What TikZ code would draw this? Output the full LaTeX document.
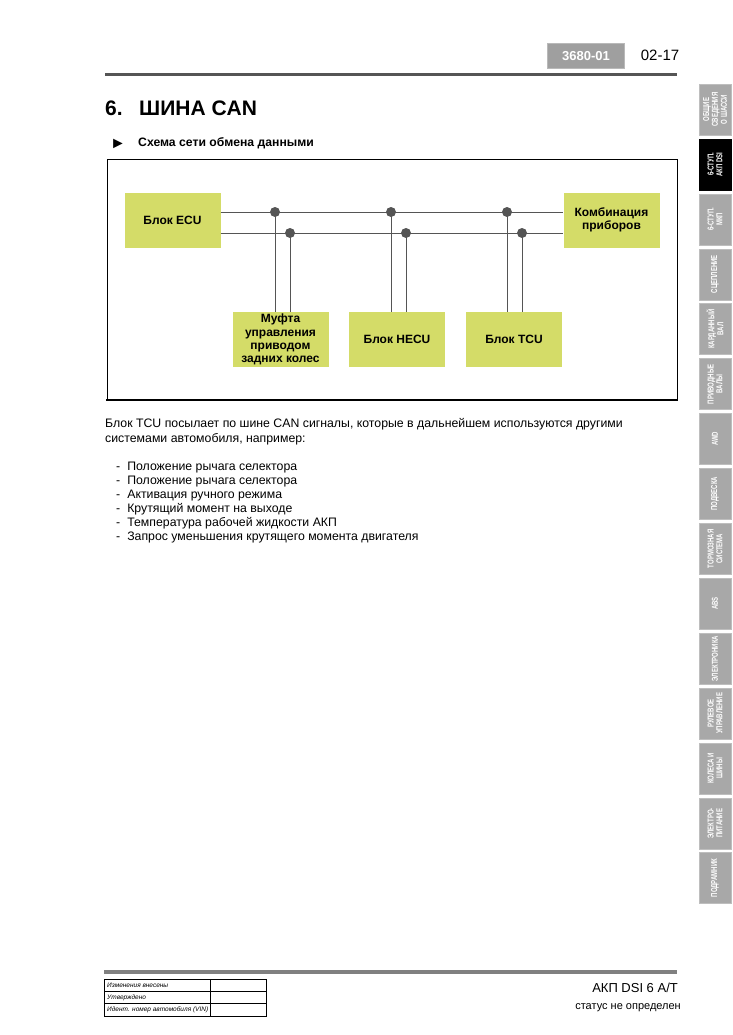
\documentclass[tikz,border=0pt]{standalone}
\usepackage{fontspec}
\setmainfont{Liberation Sans}
\newfontfamily\tabfont[FakeStretch=0.7]{Liberation Sans}
\usetikzlibrary{positioning}
\definecolor{unitfill}{RGB}{212,220,104}
\definecolor{wire}{RGB}{85,85,85}
\definecolor{tabgray}{RGB}{168,168,168}

\begin{document}
\begin{tikzpicture}[x=1pt, y=-1pt,
  unit/.style={fill=unitfill, inner sep=0pt, minimum width=96pt, minimum height=55pt, align=center, font=\fontsize{12}{13.6}\selectfont\bfseries},
  dot/.style={circle, fill=wire, inner sep=0pt, minimum size=10pt},
  bus/.style={wire, line width=0.9pt},
  tab/.style={rotate=90, fill=tabgray, draw=tabgray!75, minimum width=51pt, minimum height=32pt, inner sep=0pt, text=white, align=center, font=\tabfont\fontsize{8.6}{8.8}\selectfont\bfseries},
  txt/.style={anchor=base west, inner sep=0pt, font=\fontsize{12.3}{14}\selectfont}]
\useasboundingbox (0,0) rectangle (732,1035);

% header
\node[fill=gray!75, draw=gray!55, line width=1.5pt, minimum width=77pt, minimum height=25pt, text=white, font=\fontsize{13}{14}\selectfont\bfseries] (code) at (586,56) {3680-01};
\node[font=\fontsize{15}{16}\selectfont] (page) at (660,55) {02-17};
\draw[wire, line width=3pt] (105,75) -- (677,75);

% title
\node[anchor=base west, inner sep=0pt, font=\fontsize{21}{23}\selectfont\bfseries] (num) at (105,116) {6.};
\node[anchor=base west, inner sep=0pt, font=\fontsize{21}{23}\selectfont\bfseries] (title) at (139,116) {ШИНА CAN};
\node[anchor=base west, inner sep=0pt, font=\fontsize{16}{16}\selectfont] (tri) at (110,148.5) {►};
\node[anchor=base west, inner sep=0pt, font=\fontsize{12.2}{13}\selectfont\bfseries] (sub) at (138,147) {Схема сети обмена данными};

% scheme
\draw[line width=0.8pt] (107,400) -- (107,159) -- (677,159) -- (677,400);
\draw[line width=2pt] (106,400) -- (678,400);
\node[unit] (ecu) at (172.5,220) {Блок ECU};
\node[unit] (combi) at (611.5,220) {Комбинация\\приборов};
\node[unit, font=\fontsize{12}{13.2}\selectfont\bfseries] (mufta) at (280.5,339.5) {Муфта\\управления\\приводом\\задних колес};
\node[unit] (hecu) at (397,339.5) {Блок HECU};
\node[unit] (tcu) at (514,339.5) {Блок TCU};
\coordinate (canh) at (0,212);
\coordinate (canl) at (0,233);
\draw[bus] (ecu.east |- canh) -- (combi.west |- canh);
\draw[bus] (ecu.east |- canl) -- (combi.west |- canl);
\node[dot] (m1) at (275,212) {}; \node[dot] (m2) at (290,233) {};
\node[dot] (h1) at (391,212) {}; \node[dot] (h2) at (406,233) {};
\node[dot] (t1) at (507,212) {}; \node[dot] (t2) at (522,233) {};
\draw[bus] (m1.center) -- (mufta.north -| m1); \draw[bus] (m2.center) -- (mufta.north -| m2);
\draw[bus] (h1.center) -- (hecu.north -| h1); \draw[bus] (h2.center) -- (hecu.north -| h2);
\draw[bus] (t1.center) -- (tcu.north -| t1); \draw[bus] (t2.center) -- (tcu.north -| t2);

% text
\node[txt] (p1) at (105,427.5) {Блок TCU посылает по шине CAN сигналы, которые в дальнейшем используются другими};
\node[txt] (p2) at (105,442.5) {системами автомобиля, например:};
\node[txt] (l1) at (116,470.5) {-\hspace{7pt}Положение рычага селектора};
\node[txt] (l2) at (116,484.5) {-\hspace{7pt}Положение рычага селектора};
\node[txt] (l3) at (116,498.5) {-\hspace{7pt}Активация ручного режима};
\node[txt] (l4) at (116,512.5) {-\hspace{7pt}Крутящий момент на выходе};
\node[txt] (l5) at (116,526.5) {-\hspace{7pt}Температура рабочей жидкости АКП};
\node[txt] (l6) at (116,540.5) {-\hspace{7pt}Запрос уменьшения крутящего момента двигателя};

% side tabs
\node[tab] (s1) at (715,109.5) {ОБЩИЕ\\СВЕДЕНИЯ\\О ШАССИ};
\node[tab, fill=black, draw=black] (s2) at (715,164.4) {6-СТУП.\\АКП DSI};
\node[tab] (s3) at (715,219.3) {6-СТУП.\\МКП};
\node[tab] (s4) at (715,274.2) {СЦЕПЛЕНИЕ};
\node[tab] (s5) at (715,329.1) {КАРДАННЫЙ\\ВАЛ};
\node[tab] (s6) at (715,384) {ПРИВОДНЫЕ\\ВАЛЫ};
\node[tab] (s7) at (715,438.9) {AWD};
\node[tab] (s8) at (715,493.8) {ПОДВЕСКА};
\node[tab] (s9) at (715,548.7) {ТОРМОЗНАЯ\\СИСТЕМА};
\node[tab] (s10) at (715,603.6) {ABS};
\node[tab] (s11) at (715,658.5) {ЭЛЕКТРОНИКА};
\node[tab] (s12) at (715,713.4) {РУЛЕВОЕ\\УПРАВЛЕНИЕ};
\node[tab] (s13) at (715,768.3) {КОЛЕСА И\\ШИНЫ};
\node[tab] (s14) at (715,823.2) {ЭЛЕКТРО-\\ПИТАНИЕ};
\node[tab] (s15) at (715,878.1) {ПОДРАМНИК};

% footer
\draw[gray, line width=3.5pt] (104,972) -- (677,972);
\draw[line width=0.6pt] (104,979) rectangle (266,1016);
\draw[line width=0.6pt] (104,991) -- (266,991) (104,1003) -- (266,1003) (210,979) -- (210,1016);
\node[anchor=west, inner sep=0pt, font=\fontsize{6.5}{7}\selectfont\itshape] (f1) at (107,985.5) {Изменения внесены};
\node[anchor=west, inner sep=0pt, font=\fontsize{6.5}{7}\selectfont\itshape] (f2) at (107,997.5) {Утверждено};
\node[anchor=west, inner sep=0pt, font=\fontsize{6.5}{7}\selectfont\itshape] (f3) at (107,1009.5) {Идент. номер автомобиля (VIN)};
\node[anchor=base east, inner sep=0pt, font=\fontsize{13}{14}\selectfont] (model) at (678,992) {АКП DSI 6 A/T};
\node[anchor=base east, inner sep=0pt, font=\fontsize{11}{12}\selectfont] (status) at (681,1009.5) {статус не определен};
\end{tikzpicture}
\end{document}
